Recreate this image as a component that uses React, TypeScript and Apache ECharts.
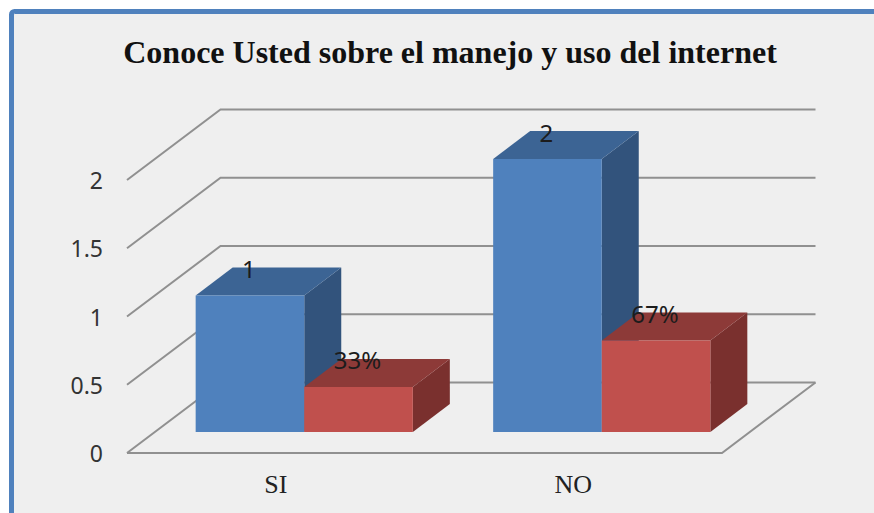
import React, { useEffect, useRef } from "react";
import * as echarts from "echarts";

const titleText = "Conoce Usted sobre el manejo y uso del internet";
const categories = ["SI", "NO"];
const cantidad = [1, 2];
const porcentaje = [0.33, 0.67];
const tickValues = [0, 0.5, 1, 1.5, 2];

const SERIF = "'Liberation Serif', serif";
const SANS = "'Noto Sans', sans-serif";

// oblique projection of the chart's depth
const WALL = { dx: 93.5, dy: -70.5 };
const PLANE = { dx: 28.5, dy: -21 };
const DEPTH = { dx: 37, dy: -28 };
const BAR_SHARE = 0.365;

const LINE = { stroke: "#909090", lineWidth: 2 };

function renderWalls(params: any, api: any) {
  const sys = params.coordSys;
  const y = api.coord([0, api.value(1)])[1];
  const x0 = sys.x;
  const x1 = sys.x + sys.width;
  const children: any[] = [
    {
      type: "polyline",
      shape: {
        points: [
          [x0, y],
          [x0 + WALL.dx, y + WALL.dy],
          [x1 + WALL.dx, y + WALL.dy],
        ],
      },
      style: { ...LINE, fill: null },
    },
  ];
  if (api.value(1) === 0) {
    children.push({
      type: "polyline",
      shape: {
        points: [
          [x0, y],
          [x1, y],
          [x1 + WALL.dx, y + WALL.dy],
        ],
      },
      style: { ...LINE, fill: null },
    });
  }
  return { type: "group", children };
}

function makeBarRenderer(side: number, colors: any, format: (v: number) => string) {
  return (_params: any, api: any) => {
    const v = api.value(1);
    const [cx, top0] = api.coord([api.value(0), v]);
    const [, base0] = api.coord([api.value(0), 0]);
    const w = api.size([1, 0])[0] * BAR_SHARE;
    const l = cx + PLANE.dx + (side < 0 ? -w : 0);
    const r = l + w;
    const t = top0 + PLANE.dy;
    const b = base0 + PLANE.dy;
    const d = DEPTH;
    return {
      type: "group",
      children: [
        {
          type: "polygon",
          shape: { points: [[r, t], [r + d.dx, t + d.dy], [r + d.dx, b + d.dy], [r, b]] },
          style: { fill: colors.side },
        },
        {
          type: "polygon",
          shape: { points: [[l, t], [l + d.dx, t + d.dy], [r + d.dx, t + d.dy], [r, t]] },
          style: { fill: colors.top },
        },
        { type: "rect", shape: { x: l, y: t, width: w, height: b - t }, style: { fill: colors.front } },
        {
          type: "text",
          x: (l + r) / 2 - 1,
          y: t - 27,
          style: {
            text: format(v),
            font: `24px ${SANS}`,
            fill: "#1c1c1c",
            align: "center",
            verticalAlign: "middle",
          },
        },
      ],
    };
  };
}

export default function App() {
  const ref = useRef<HTMLDivElement>(null);
  useEffect(() => {
    const chart = echarts.init(ref.current!, null, { renderer: "svg" });
    chart.setOption({
      animation: false,
      backgroundColor: "#ffffff",
      graphic: [
        {
          type: "rect",
          z: -10,
          silent: true,
          shape: { x: 11.5, y: 11.5, width: 900, height: 600, r: 3 },
          style: { fill: "#efefef", stroke: "#4f81bd", lineWidth: 5 },
        },
      ],
      title: {
        text: titleText,
        left: 450,
        top: 36,
        textAlign: "center",
        padding: 0,
        textStyle: { fontFamily: SERIF, fontWeight: "bold", fontSize: 32, color: "#111111" },
      },
      grid: { left: 127, top: 180, width: 595, height: 273 },
      xAxis: {
        type: "category",
        data: categories,
        axisLine: { show: false },
        axisTick: { show: false },
        axisLabel: { margin: 18, fontFamily: SERIF, fontSize: 26, color: "#222222" },
      },
      yAxis: {
        type: "value",
        min: 0,
        max: 2,
        interval: 0.5,
        axisLine: { show: false },
        axisTick: { show: false },
        splitLine: { show: false },
        axisLabel: { margin: 24, fontFamily: SANS, fontSize: 23, color: "#333333" },
      },
      series: [
        {
          type: "custom",
          silent: true,
          clip: false,
          renderItem: renderWalls,
          data: tickValues.map((v) => [0, v]),
        },
        {
          type: "custom",
          silent: true,
          clip: false,
          renderItem: makeBarRenderer(-1, { front: "#4f81bd", top: "#3c6494", side: "#32537c" }, (v) => String(v)),
          data: cantidad.map((v, i) => [i, v]),
        },
        {
          type: "custom",
          silent: true,
          clip: false,
          renderItem: makeBarRenderer(1, { front: "#c0504d", top: "#8d3a38", side: "#7a302e" }, (v) => `${Math.round(v * 100)}%`),
          data: porcentaje.map((v, i) => [i, v]),
        },
      ],
    });
    return () => chart.dispose();
  }, []);
  return <div ref={ref} style={{ position: "absolute", left: 0, top: 0, width: 874, height: 513 }} />;
}
